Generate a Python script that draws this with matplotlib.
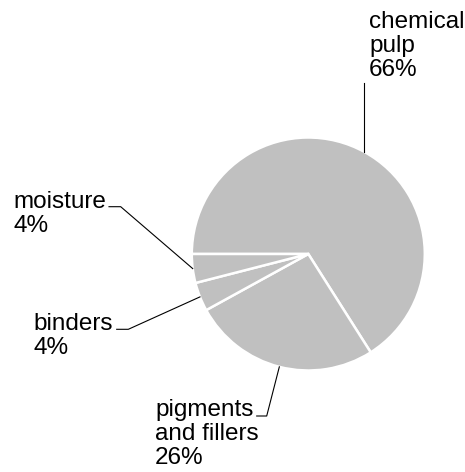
import numpy as np
import matplotlib
matplotlib.use('Agg')
import matplotlib.pyplot as plt

plt.rcParams['font.family'] = ['Liberation Sans', 'DejaVu Sans']

labels = ['chemical\npulp', 'pigments\nand fillers', 'binders', 'moisture']
values = [66, 26, 4, 4]

W, H = 465, 472
cx, cy, R = 308.3, 254.0, 116.5   # pie centre / radius in pixels


def px(x, y):
    # pixel position -> data units (pie radius = 1)
    return (x - cx) / R, (cy - y) / R


fig = plt.figure(figsize=(W / 100, H / 100), dpi=100)
ax = fig.add_axes([0, 0, 1, 1])

wedges, _ = ax.pie(values, startangle=180, counterclock=False, radius=1,
                   colors=['#c0c0c0'] * len(values),
                   wedgeprops=dict(edgecolor='white', linewidth=1.8))

# label text corner (left, top) and leader elbow / tail, in pixels
text_pos = [(369, 11), (155, 399), (33, 313), (13, 191)]
elbows = [None, (266.7, 416), (128.3, 329.3), (120.7, 206.7)]
tails = [None, (256.7, 416), (116.7, 329.3), (109, 206.7)]

for w, lab, v, tp, el, tl in zip(wedges, labels, values, text_pos, elbows, tails):
    ang = np.deg2rad((w.theta1 + w.theta2) / 2)
    ex, ey = np.cos(ang), np.sin(ang)
    if el is None:
        ax.plot([ex, ex], [ey, px(0, 83)[1]], color='black', lw=0.8)
    else:
        e = px(*el)
        t = px(*tl)
        ax.plot([ex, e[0], t[0]], [ey, e[1], t[1]], color='black', lw=0.8)
    tx, ty = px(*tp)
    ax.text(tx, ty, '%s\n%d%%' % (lab, v), ha='left', va='top',
            fontsize=17.5, linespacing=1.12)

ax.set_aspect('auto')
ax.set_xlim(-cx / R, (W - cx) / R)
ax.set_ylim(-(H - cy) / R, cy / R)
ax.axis('off')

fig.savefig('out.png', dpi=100)
